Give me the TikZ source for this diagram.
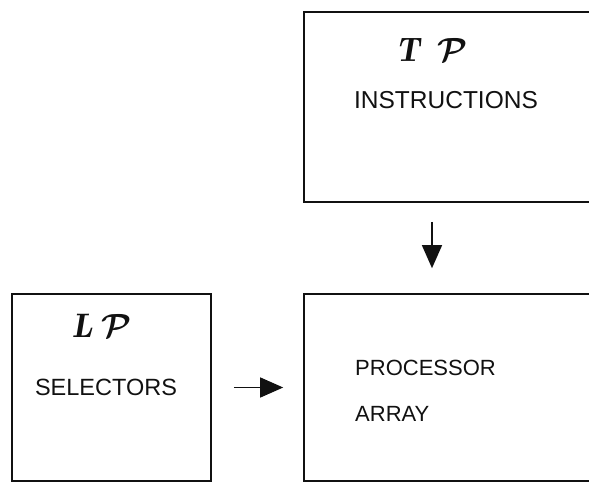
\documentclass[tikz,border=0pt]{standalone}
\usepackage{fontspec}
\usepackage{tikz}
\usetikzlibrary{positioning, arrows.meta}
\setsansfont{Liberation Sans}
\definecolor{inkblack}{HTML}{111111}
\newcommand\scriptletter{\scalebox{1.35}{$\mathcal{P}$}}

\begin{document}
\begin{tikzpicture}[x=1pt, y=1pt,
    block/.style={draw=inkblack, line width=1.6pt, inner sep=0pt},
    caps/.style={font=\sffamily\fontsize{#1}{#1}\selectfont, inner sep=0pt, text=inkblack},
    tag/.style={font=\boldmath\fontsize{34}{34}\selectfont, inner sep=0pt, text=inkblack},
    flow/.style={draw=inkblack, line width=1.3pt, -{Triangle[length=23pt, width=20pt]}}]
    \path[use as bounding box, clip] (0,0) rectangle (589,482);
    % the three boxes
    \node[block, minimum width=316pt, minimum height=190pt] (tp) at (462,375) {};
    \node[block, minimum width=316pt, minimum height=187pt] (pa) at (462,94.5) {};
    \node[block, minimum width=199pt, minimum height=187pt] (lp) at (111.5,94.5) {};
    % labels
    \node[tag] (tptag) at (432,432) {$\mathit{T}$\hspace{18pt}\scriptletter};
    \node[caps=24.5] (instr) at (446,381.5) {INSTRUCTIONS};
    \node[tag] (lptag) at (102,156) {$\mathit{L}$\hspace{8pt}\scriptletter};
    \node[caps=23.5] (sel) at (106,94.5) {SELECTORS};
    \node[caps=22, anchor=west] (proc) at (355,114.5) {PROCESSOR};
    \node[caps=22, anchor=west] (arr) at (355,68) {ARRAY};
    % connectors
    \draw[flow, shorten <=19pt, shorten >=25pt] ([xshift=-30pt]tp.south) -- ([xshift=-30pt]pa.north);
    \draw[flow, shorten <=22pt, shorten >=20pt] (lp.east) -- (pa.west);
  \end{tikzpicture}
\end{document}
